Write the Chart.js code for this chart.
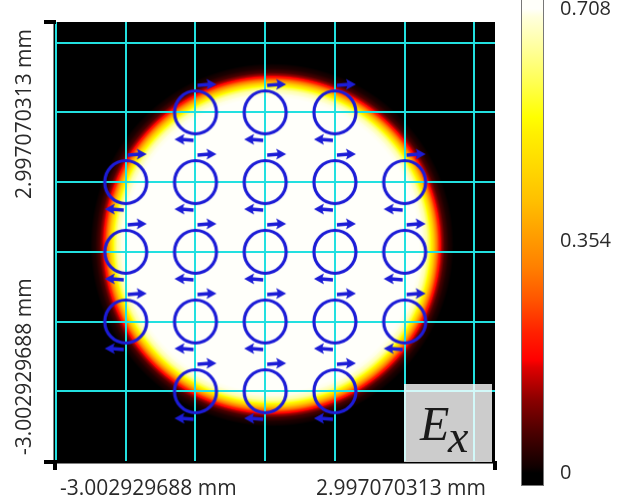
<!DOCTYPE html>
<html>
<head>
<meta charset="utf-8">
<script src="https://cdn.jsdelivr.net/npm/chart.js@4.4.1/dist/chart.umd.min.js"></script>
<style>
  html, body { margin: 0; padding: 0; background: #fff; }
</style>
</head>
<body>
<canvas id="beamChart" width="630" height="502"></canvas>
<script>
// axis range, mm
const xRange = [-3.002929688, 2.997070313];
const yRange = [-3.002929688, 2.997070313];
const xLabels = ['-3.002929688 mm', '2.997070313 mm'];
const yLabels = ['-3.002929688 mm', '2.997070313 mm'];

// cyan grid lines, mm
const gridX = [-3.0029, -2.050, -1.097, -0.144, 0.809, 1.762, 2.714];
const gridY = [-2.050, -1.097, -0.144, 0.809, 1.762, 2.714];

// polarisation ellipse centres, mm
const ellipseX = [-1.097, -0.144, 0.809,
  -2.050, -1.097, -0.144, 0.809, 1.762,
  -2.050, -1.097, -0.144, 0.809, 1.762,
  -2.050, -1.097, -0.144, 0.809, 1.762,
  -1.097, -0.144, 0.809];
const ellipseY = [1.762, 1.762, 1.762,
  0.809, 0.809, 0.809, 0.809, 0.809,
  -0.144, -0.144, -0.144, -0.144, -0.144,
  -1.097, -1.097, -1.097, -1.097, -1.097,
  -2.050, -2.050, -2.050];

// beam: centre and radial profile (mm -> |Ex|)
const beamCenter = [-0.05, -0.05];
const profileR = [0, 2.005, 2.06, 2.114, 2.155, 2.197, 2.237, 2.278, 2.32, 2.36, 2.415, 2.483];
const profileV = [0.708, 0.708, 0.70, 0.66, 0.58, 0.47, 0.35, 0.23, 0.13, 0.06, 0.02, 0];

// colour bar
const cbTicks = [0, 0.354, 0.708];
const cbMax = 0.708;
const cbStops = [0, 0.013, 0.086, 0.157, 0.228, 0.244, 0.302, 0.373, 0.444, 0.517, 0.588, 0.659, 0.733, 0.767, 0.84, 0.912, 0.983, 1];
const cbColors = ['#000000', '#100000', '#4a0000', '#8a0000', '#e00000', '#ff0000', '#ff2000', '#ff5500', '#ff8000',
  '#ffa000', '#ffc000', '#ffd800', '#fff000', '#ffff00', '#ffff50', '#ffff99', '#ffffdd', '#fffffa'];

const gridColor = '#22e0e0';
const ellipseColor = '#1c1cd6';
const textFont = '21px "Open Sans", "DejaVu Sans", sans-serif';

function hexRgb(h) {
  return [parseInt(h.slice(1, 3), 16), parseInt(h.slice(3, 5), 16), parseInt(h.slice(5, 7), 16)];
}
const cbRgb = cbColors.map(hexRgb);

function colorAt(t) {
  if (t <= 0) return cbRgb[0];
  if (t >= 1) return cbRgb[cbRgb.length - 1];
  let i = 1;
  while (cbStops[i] < t) i++;
  const f = (t - cbStops[i - 1]) / (cbStops[i] - cbStops[i - 1]);
  const a = cbRgb[i - 1], b = cbRgb[i];
  return [a[0] + (b[0] - a[0]) * f, a[1] + (b[1] - a[1]) * f, a[2] + (b[2] - a[2]) * f];
}

function profileAt(r) {
  if (r >= profileR[profileR.length - 1]) return 0;
  let i = 1;
  while (profileR[i] < r) i++;
  const f = (r - profileR[i - 1]) / (profileR[i] - profileR[i - 1]);
  return profileV[i - 1] + (profileV[i] - profileV[i - 1]) * f;
}

// ellipse marker with its two direction arrows
function arrow(g, x0, x1, y) {
  const d = Math.sign(x1 - x0);
  g.lineWidth = 3.5;
  g.beginPath();
  g.moveTo(x0, y + 1);
  g.lineTo(x1 - d * 7, y);
  g.stroke();
  g.beginPath();
  g.moveTo(x1, y);
  g.lineTo(x1 - d * 10, y - 5.5);
  g.lineTo(x1 - d * 8, y);
  g.lineTo(x1 - d * 10, y + 5.5);
  g.closePath();
  g.fill();
}

function makeMarker() {
  const c = document.createElement('canvas');
  c.width = 60; c.height = 76;
  const g = c.getContext('2d');
  const cx = 30, cy = 38;
  g.strokeStyle = ellipseColor;
  g.fillStyle = ellipseColor;
  g.lineWidth = 3.2;
  g.beginPath();
  g.ellipse(cx, cy, 21, 21.5, 0, 0, Math.PI * 2);
  g.stroke();
  arrow(g, cx + 2, cx + 21, cy - 28);
  arrow(g, cx - 2, cx - 21, cy + 27);
  return c;
}

const beamImage = {
  id: 'beamImage',
  beforeDraw(chart) {
    const { ctx, chartArea: a, scales: { x, y } } = chart;
    const w = Math.round(a.right - a.left), h = Math.round(a.bottom - a.top);
    const off = document.createElement('canvas');
    off.width = w; off.height = h;
    const octx = off.getContext('2d');
    const img = octx.createImageData(w, h);
    for (let j = 0; j < h; j++) {
      const vy = y.getValueForPixel(a.top + j + 0.5);
      for (let i = 0; i < w; i++) {
        const vx = x.getValueForPixel(a.left + i + 0.5);
        const r = Math.hypot(vx - beamCenter[0], vy - beamCenter[1]);
        const c = colorAt(profileAt(r) / cbMax);
        const k = (j * w + i) * 4;
        img.data[k] = c[0]; img.data[k + 1] = c[1]; img.data[k + 2] = c[2]; img.data[k + 3] = 255;
      }
    }
    octx.putImageData(img, 0, 0);
    ctx.drawImage(off, a.left, a.top);
  }
};

const decorations = {
  id: 'decorations',
  afterDraw(chart) {
    const { ctx, chartArea: a } = chart;
    ctx.save();

    // axis lines with end caps
    ctx.fillStyle = '#000';
    ctx.fillRect(a.left - 2.5, a.top, 1.5, a.bottom - a.top);
    ctx.fillRect(a.left, a.bottom, a.right - a.left, 2.5);
    ctx.fillRect(a.left - 12, a.top - 2, 12, 4);
    ctx.fillRect(a.left - 12, a.bottom - 1, 13, 4);
    ctx.fillRect(a.left - 3, a.bottom - 1, 4, 10);
    ctx.fillRect(a.right - 2, a.bottom, 4, 9);

    // Ex box
    ctx.fillStyle = 'rgba(255,255,255,0.8)';
    ctx.fillRect(a.right - 91, a.bottom - 77, 88, 78);
    ctx.fillStyle = '#1a1a1a';
    ctx.textBaseline = 'alphabetic';
    ctx.textAlign = 'left';
    ctx.font = 'italic 48px "Liberation Serif", "DejaVu Serif", serif';
    ctx.fillText('E', a.right - 75, a.bottom - 21);
    ctx.font = 'italic 46px "Liberation Serif", "DejaVu Serif", serif';
    ctx.fillText('x', a.right - 47, a.bottom - 9);

    // axis end labels
    ctx.font = textFont;
    ctx.fillStyle = '#2a2a2a';
    ctx.textBaseline = 'middle';
    ctx.textAlign = 'left';
    ctx.fillText(xLabels[0], a.left + 4, a.bottom + 28);
    ctx.textAlign = 'right';
    ctx.fillText(xLabels[1], a.right - 9, a.bottom + 28);

    ctx.save();
    ctx.translate(a.left - 31, 0);
    ctx.rotate(-Math.PI / 2);
    ctx.textAlign = 'left';
    ctx.fillText(yLabels[0], -(a.bottom - 6), 0);
    ctx.textAlign = 'right';
    ctx.fillText(yLabels[1], -(a.top + 7), 0);
    ctx.restore();

    // colour bar
    const barX = 522, barW = 21, barTop = -1, barBottom = 485;
    const y0 = 473, y1 = 9;
    const cbPix = v => y0 + (y1 - y0) * v / cbMax;
    const grad = ctx.createLinearGradient(0, y0, 0, y1);
    cbStops.forEach((s, i) => grad.addColorStop(s, cbColors[i]));
    ctx.fillStyle = grad;
    ctx.fillRect(barX, barTop, barW, barBottom - barTop);
    ctx.strokeStyle = '#777';
    ctx.lineWidth = 1;
    ctx.strokeRect(barX - 0.5, barTop + 0.5, barW + 1, barBottom - barTop);

    ctx.fillStyle = '#2a2a2a';
    ctx.textAlign = 'left';
    ctx.textBaseline = 'middle';
    ctx.font = '20px "Open Sans", "DejaVu Sans", sans-serif';
    cbTicks.forEach(v => ctx.fillText(String(v), 560, cbPix(v)));

    ctx.restore();
  }
};

const points = ellipseX.map((v, i) => ({ x: v, y: ellipseY[i] }));

new Chart(document.getElementById('beamChart'), {
  type: 'scatter',
  data: {
    datasets: [{
      data: points,
      pointStyle: makeMarker(),
      pointRadius: 20,
      pointHoverRadius: 20
    }]
  },
  options: {
    responsive: false,
    animation: false,
    events: [],
    devicePixelRatio: 1,
    layout: { padding: { left: 56, top: 22, right: 135, bottom: 41 } },
    plugins: { legend: { display: false }, tooltip: { enabled: false } },
    scales: {
      x: {
        type: 'linear',
        min: xRange[0], max: xRange[1],
        afterBuildTicks: axis => { axis.ticks = gridX.map(v => ({ value: v })); },
        ticks: { display: false },
        grid: { color: gridColor, lineWidth: 2, drawTicks: false },
        border: { display: false }
      },
      y: {
        type: 'linear',
        min: yRange[0], max: yRange[1],
        afterBuildTicks: axis => { axis.ticks = gridY.map(v => ({ value: v })); },
        ticks: { display: false },
        grid: { color: gridColor, lineWidth: 2, drawTicks: false },
        border: { display: false }
      }
    }
  },
  plugins: [beamImage, decorations]
});
</script>
</body>
</html>
